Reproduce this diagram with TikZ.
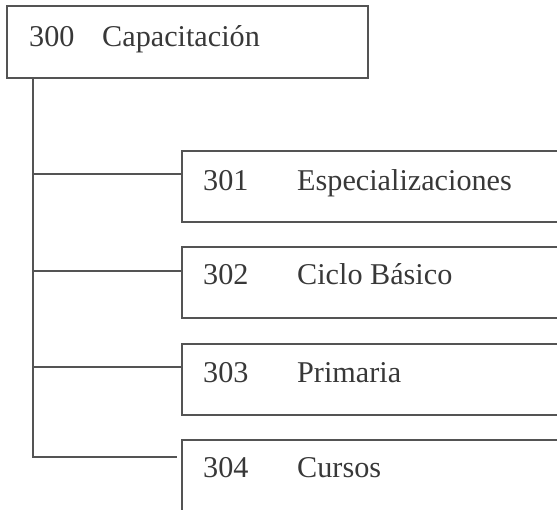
\documentclass[tikz,border=0pt]{standalone}
\usepackage{fontspec}
\setmainfont{Liberation Serif}
\definecolor{linegray}{gray}{0.33}
\definecolor{textgray}{gray}{0.22}
\begin{document}
\begin{tikzpicture}[x=1pt,y=-1pt,
  box/.style={draw=linegray, line width=1.3pt, minimum width=#1, minimum height=71pt,
              inner sep=0pt, outer sep=0pt, anchor=north west},
  lbl/.style={anchor=base west, inner sep=0pt, text=textgray,
              font=\fontsize{30.2}{32}\selectfont},
  link/.style={draw=linegray, line width=1.3pt}]
\useasboundingbox (0,0) rectangle (557,510);
\clip (0,0) rectangle (557,510);

% boxes
\node[box=361pt, minimum height=72pt] (b300) at (7,6) {};
\node[box=385pt] (b301) at (182,151) {};
\node[box=385pt] (b302) at (182,247) {};
\node[box=385pt] (b303) at (182,344) {};
\node[box=385pt, minimum height=100pt] (b304) at (182,440) {};

% texts
\node[lbl] (n300) at (29,47) {300};
\node[lbl] (t300) at (102,47) {Capacitación};
\node[lbl] (n301) at (203,191) {301};
\node[lbl] (t301) at (297,191) {Especializaciones};
\node[lbl] (n302) at (203,285) {302};
\node[lbl] (t302) at (297,285) {Ciclo Básico};
\node[lbl] (n303) at (203,383) {303};
\node[lbl] (t303) at (297,383) {Primaria};
\node[lbl] (n304) at (203,478) {304};
\node[lbl] (t304) at (297,478) {Cursos};

% connectors
\coordinate (top) at (33,78);
\coordinate (j1) at (33,174);
\coordinate (j2) at (33,271);
\coordinate (j3) at (33,367);
\coordinate (j4) at (33,457);
\coordinate (e4) at (177,457);
\draw[link] (top) -- (j4) -- (e4);
\draw[link] (j1) -- (j1 -| b301.west);
\draw[link] (j2) -- (j2 -| b302.west);
\draw[link] (j3) -- (j3 -| b303.west);
\end{tikzpicture}
\end{document}
